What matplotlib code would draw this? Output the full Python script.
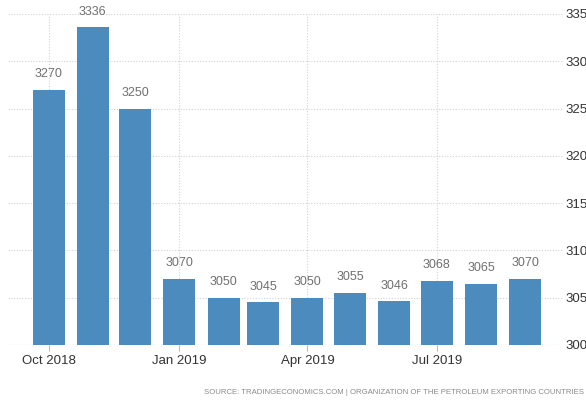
import datetime as dt
import matplotlib.pyplot as plt
import matplotlib.dates as mdates
from matplotlib import font_manager

# OPEC crude oil production, thousand barrels per day
months = ['2018-10', '2018-11', '2018-12', '2019-01', '2019-02', '2019-03',
          '2019-04', '2019-05', '2019-06', '2019-07', '2019-08', '2019-09']
production = [3270, 3336, 3250, 3070, 3050, 3045, 3050, 3055, 3046, 3068, 3065, 3070]
tick_months = ['2018-10', '2019-01', '2019-04', '2019-07']
tick_labels = ['Oct 2018', 'Jan 2019', 'Apr 2019', 'Jul 2019']
y_ticks = [3000, 3050, 3100, 3150, 3200, 3250, 3300, 3350]
source = 'SOURCE: TRADINGECONOMICS.COM | ORGANIZATION OF THE PETROLEUM EXPORTING COUNTRIES'


def to_date(s):
    return dt.datetime.strptime(s, '%Y-%m')


names = {f.name for f in font_manager.fontManager.ttflist}
font = 'Liberation Sans Narrow' if 'Liberation Sans Narrow' in names else 'Liberation Sans'
plt.rcParams['font.family'] = [font, 'DejaVu Sans']

fig = plt.figure(figsize=(5.86, 4.07), dpi=100)
ax = fig.add_axes([8 / 586, 62 / 407, 555 / 586, 331 / 407])

x = [to_date(m) for m in months]
ax.bar(x, production, width=22.5, color='#4b8bbe', zorder=2)
for xi, v in zip(x, production):
    ax.annotate(str(v), (xi, v), xytext=(0, 7), textcoords='offset points',
                ha='center', va='bottom', fontsize=9, color='#707070')

ax.set_xlim(to_date('2018-10') - dt.timedelta(days=28.6),
            to_date('2018-10') + dt.timedelta(days=361.7))
ax.set_ylim(3000, 3350)
ax.set_xticks([mdates.date2num(to_date(m)) for m in tick_months])
ax.set_xticklabels(tick_labels)
ax.set_yticks(y_ticks)
ax.yaxis.tick_right()

ax.grid(True, color='#d2d2d2', linestyle=(0, (1, 1.5)), linewidth=0.8, zorder=0)
for s in ax.spines.values():
    s.set_visible(False)
ax.axhline(3000, color='#d2d2d2', linestyle=(0, (1, 1.5)), linewidth=0.8, zorder=1)

ax.tick_params(axis='x', length=4, color='#bbbbbb', labelsize=9.5, labelcolor='#333333', pad=3)
ax.tick_params(axis='y', length=0, labelsize=9.5, labelcolor='#333333', pad=2)

fig.text(584 / 586, 1 - 392 / 407, source, ha='right', va='center',
         fontsize=5.6, color='#8a8a8a')

fig.savefig('out.png', dpi=100)
